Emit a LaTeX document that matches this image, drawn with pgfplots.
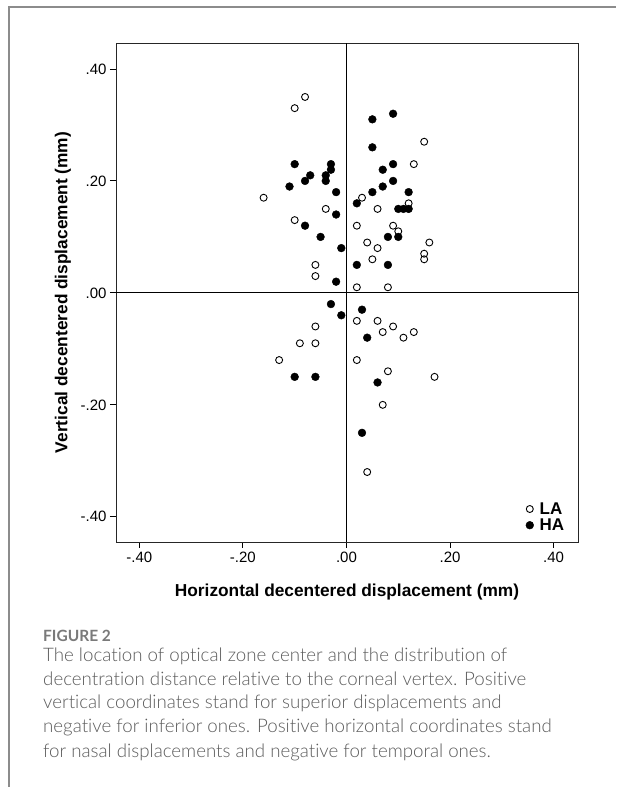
\documentclass[border=0pt]{standalone}
\usepackage{fontspec}
\setmainfont{Liberation Sans}
\newfontfamily\capbold{Lato}[Ligatures=NoCommon]
\IfFontExistsTF{Lato Light}
  {\newfontfamily\capfont{Lato Light}[Ligatures=NoCommon]}
  {\newfontfamily\capfont{Lato}[Ligatures=NoCommon]}
\usepackage{pgfplots}
\pgfplotsset{compat=1.18}
\definecolor{capgray}{HTML}{5C5C5C}
\definecolor{figgray}{HTML}{7A7A7A}
\definecolor{framegray}{HTML}{8C8C8C}

\begin{document}
\begin{tikzpicture}[x=1pt,y=1pt]
\useasboundingbox (0,0) rectangle (616,787);
\fill[white] (0,0) rectangle (616,787);
% page frame
\draw[framegray, line width=1.1pt] (9,0) -- (9,780) -- (616,780);

\begin{axis}[
    at={(116pt,245pt)}, anchor=south west,
    scale only axis,
    width=462pt, height=499pt,
    xmin=-0.445, xmax=0.447,
    ymin=-0.445, ymax=0.4464,
    axis line style={line width=0.9pt, black!85},
    xtick={-0.4,-0.2,0,0.2,0.4},
    xticklabels={-.40,-.20,.00,.20,.40},
    ytick={-0.4,-0.2,0,0.2,0.4},
    yticklabels={-.40,-.20,.00,.20,.40},
    xtick pos=bottom, ytick pos=left,
    tick align=outside,
    major tick length=6pt,
    tick style={line width=0.9pt, black},
    ticklabel style={font=\fontsize{15}{17}\selectfont},
    xlabel={Horizontal decentered displacement (mm)},
    ylabel={Vertical decentered displacement (mm)},
    label style={font=\bfseries\fontsize{17.3}{20}\selectfont},
    xlabel style={at={(axis description cs:0.5,-0.11)}, anchor=base},
    ylabel style={at={(axis description cs:-0.105,0.5)}, anchor=base},
    legend cell align=left,
    legend style={draw=none, fill=none, at={(axis description cs:0.975,0.016)},
        anchor=south east, inner sep=0pt, row sep=-1pt, column sep=4pt,
        font=\bfseries\fontsize{17}{18}\selectfont},
    legend image code/.code={\draw[#1] plot coordinates {(0pt,0pt)};},
]
% zero reference lines
\draw[black, line width=0.9pt] (axis cs:0,-0.445) -- (axis cs:0,0.4464);
\draw[black, line width=0.9pt] (axis cs:-0.445,0) -- (axis cs:0.447,0);

% LA (open circles)
\addplot[only marks, mark=o, mark size=3.5pt, line width=0.9pt, black]
  coordinates {
    (-0.08,0.35) (-0.10,0.33) (-0.16,0.17) (-0.04,0.15) (-0.10,0.13)
    (-0.06,0.05) (-0.06,0.03)
    (0.15,0.27) (0.13,0.23) (0.03,0.17) (0.12,0.16) (0.06,0.15)
    (0.02,0.12) (0.09,0.12) (0.10,0.11) (0.04,0.09) (0.16,0.09)
    (0.06,0.08) (0.05,0.06) (0.15,0.07) (0.15,0.06) (0.02,0.01) (0.08,0.01)
    (-0.06,-0.06) (-0.09,-0.09) (-0.06,-0.09) (-0.13,-0.12)
    (0.02,-0.05) (0.06,-0.05) (0.09,-0.06) (0.07,-0.07) (0.13,-0.07)
    (0.11,-0.08) (0.02,-0.12) (0.08,-0.14) (0.17,-0.15) (0.07,-0.20)
    (0.04,-0.32)
  };
\addlegendentry{LA}
% HA (filled circles)
\addplot[only marks, mark=*, mark size=3.9pt, black]
  coordinates {
    (-0.10,0.23) (-0.03,0.23) (-0.03,0.22) (-0.07,0.21) (-0.04,0.21)
    (-0.08,0.20) (-0.04,0.20) (-0.11,0.19) (-0.02,0.18) (-0.02,0.14)
    (-0.08,0.12) (-0.05,0.10) (-0.01,0.08) (-0.02,0.02)
    (0.09,0.32) (0.05,0.31) (0.05,0.26) (0.09,0.23) (0.07,0.22)
    (0.09,0.20) (0.07,0.19) (0.05,0.18) (0.12,0.18) (0.02,0.16)
    (0.10,0.15) (0.11,0.15) (0.12,0.15) (0.08,0.10) (0.10,0.10)
    (0.02,0.05) (0.08,0.05)
    (-0.03,-0.02) (-0.01,-0.04) (-0.10,-0.15) (-0.06,-0.15)
    (0.03,-0.03) (0.04,-0.08) (0.06,-0.16) (0.03,-0.25)
  };
\addlegendentry{HA}
\end{axis}

% caption
\node[anchor=base west, inner sep=0pt, text=figgray,
      font=\capbold\bfseries\fontsize{15.5}{18}\selectfont] at (43,145.7) {FIGURE 2};
\begin{scope}[every node/.style={anchor=base west, inner sep=0pt, text=capgray,
      font=\capfont\fontsize{18.7}{24}\selectfont}]
\node at (43,125.4) {The location of optical zone center and the distribution of};
\node at (43,101.4) {decentration distance relative to the corneal vertex. Positive};
\node at (43,78.4) {vertical coordinates stand for superior displacements and};
\node at (43,54.4) {negative for inferior ones. Positive horizontal coordinates stand};
\node at (43,29.4) {for nasal displacements and negative for temporal ones.};
\end{scope}
\end{tikzpicture}
\end{document}
